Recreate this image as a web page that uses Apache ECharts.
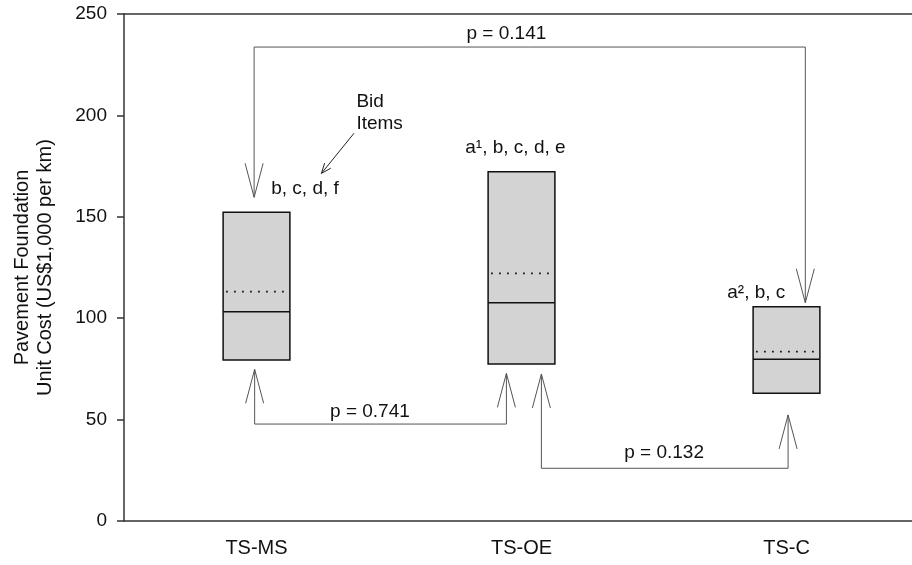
<!DOCTYPE html>
<html>
<head>
<meta charset="utf-8">
<title>Pavement Foundation Unit Cost</title>
<script src="https://cdn.jsdelivr.net/npm/echarts@6/dist/echarts.min.js"></script>
<style>
  html, body { margin: 0; padding: 0; background: #fff; }
  #main { width: 912px; height: 565px; }
</style>
</head>
<body>
<div id="main"></div>
<script>
// groups
const categories = ['TS-MS', 'TS-OE', 'TS-C'];
// box = 25th..75th percentile, solid = median, dotted = mean
const q1Values = [79.4, 77.4, 63.0];
const q3Values = [152.2, 172.2, 105.7];
const medianValues = [103.2, 107.6, 79.7];
const meanValues = [113.1, 122.1, 83.5];

// comparison brackets: [x start, tip start, x end, tip end, bracket level]
const bracketData = [
  [-0.009, 159.6, 2.071, 107.6, 233.7],
  [-0.007, 74.8, 0.943, 72.8, 47.8],
  [1.075, 72.5, 2.006, 52.3, 26.0]
];
const pLabels = ['p = 0.141', 'p = 0.741', 'p = 0.132'];
const pLabelPos = [[0.943, 240.5], [0.428, 53.9], [1.538, 33.4]];

// bid items over each box
const bidLabels = ['b, c, d, f', 'a\u00b9, b, c, d, e', 'a\u00b2, b, c'];
const bidLabelPos = [[0.183, 163.6], [0.977, 183.8], [1.886, 112.3]];
const noteText = 'Bid\nItems';
const notePos = [[0.377, 201.3]];
const notePointer = [[0.368, 191.2, 0.245, 171.4]];

const font = '"Liberation Sans", Arial, sans-serif';
const axisColor = '#333';

const chart = echarts.init(document.getElementById('main'));

function renderBox(params, api) {
  const x = api.value(0);
  const lo = api.coord([x, api.value(1)]);
  const hi = api.coord([x, api.value(2)]);
  const med = api.coord([x, api.value(3)]);
  const mean = api.coord([x, api.value(4)]);
  const half = api.size([1, 0])[0] * 0.126;
  return {
    type: 'group',
    children: [
      { type: 'rect', shape: { x: lo[0] - half, y: hi[1], width: half * 2, height: lo[1] - hi[1] },
        style: { fill: '#d3d3d3', stroke: '#111', lineWidth: 1.5 } },
      { type: 'line', shape: { x1: lo[0] - half, y1: med[1], x2: lo[0] + half, y2: med[1] },
        style: { stroke: '#111', lineWidth: 1.5 } },
      { type: 'line', shape: { x1: lo[0] - half + 3, y1: mean[1], x2: lo[0] + half, y2: mean[1] },
        style: { stroke: '#000', lineWidth: 1.6, lineDash: [1.6, 6.4] } }
    ]
  };
}

function arrowHead(tip, base, len, w) {
  const dir = tip[1] < base[1] ? 1 : -1;
  return [[tip[0] - w, tip[1] + dir * len], [tip[0], tip[1]], [tip[0] + w, tip[1] + dir * len]];
}

function renderBracket(params, api) {
  const a = api.coord([api.value(0), api.value(1)]);
  const b = api.coord([api.value(0), api.value(4)]);
  const c = api.coord([api.value(2), api.value(4)]);
  const d = api.coord([api.value(2), api.value(3)]);
  const st = { stroke: '#555', lineWidth: 1, fill: null };
  return {
    type: 'group',
    children: [
      { type: 'polyline', shape: { points: [a, b, c, d] }, style: st },
      { type: 'polyline', shape: { points: arrowHead(a, b, 34, 9) }, style: st },
      { type: 'polyline', shape: { points: arrowHead(d, c, 34, 9) }, style: st }
    ]
  };
}

function textRenderer(texts, align) {
  return function (params, api) {
    const p = api.coord([api.value(0), api.value(1)]);
    return {
      type: 'text',
      style: {
        x: p[0], y: p[1], text: texts[params.dataIndex],
        align: align, verticalAlign: 'middle',
        fontSize: 19, fontFamily: font, fill: '#111', lineHeight: 22
      }
    };
  };
}

function renderPointer(params, api) {
  const s = api.coord([api.value(0), api.value(1)]);
  const e = api.coord([api.value(2), api.value(3)]);
  const dx = e[0] - s[0], dy = e[1] - s[1];
  const len = Math.sqrt(dx * dx + dy * dy);
  const ux = dx / len, uy = dy / len;
  const hl = 10, hw = 4;
  const bx = e[0] - ux * hl, by = e[1] - uy * hl;
  return {
    type: 'group',
    children: [
      { type: 'line', shape: { x1: s[0], y1: s[1], x2: e[0], y2: e[1] }, style: { stroke: '#222', lineWidth: 1 } },
      { type: 'polyline', shape: { points: [[bx - uy * hw, by + ux * hw], e, [bx + uy * hw, by - ux * hw]] },
        style: { stroke: '#222', lineWidth: 1, fill: null } }
    ]
  };
}

const option = {
  animation: false,
  backgroundColor: '#fff',
  textStyle: { fontFamily: font },
  // plot area runs a little past the right edge, as in the original figure
  grid: { left: 124, top: 14, width: 795, height: 507, outerBoundsMode: 'none', containLabel: false },
  xAxis: [
    {
      type: 'category', data: categories, position: 'bottom', boundaryGap: true,
      axisLine: { onZero: false, lineStyle: { color: axisColor, width: 1.5 } },
      axisTick: { alignWithLabel: true, length: 7, lineStyle: { color: axisColor, width: 1.5 } },
      axisLabel: { fontSize: 20, color: '#111', margin: 17, fontFamily: font },
      splitLine: { show: false }
    },
    {
      type: 'value', position: 'top', min: -0.5, max: 2.5,
      axisLine: { show: true, onZero: false, lineStyle: { color: axisColor, width: 1.5 } },
      axisTick: { show: false }, axisLabel: { show: false }, splitLine: { show: false }
    }
  ],
  yAxis: {
    type: 'value', min: 0, max: 250, interval: 50,
    name: 'Pavement Foundation\nUnit Cost (US$1,000 per km)',
    nameLocation: 'middle', nameRotate: 90, nameGap: 67,
    nameTextStyle: { fontSize: 20, lineHeight: 23, color: '#111', fontFamily: font },
    axisLine: { show: true, onZero: false, lineStyle: { color: axisColor, width: 1.5 } },
    axisTick: { show: true, length: 7, lineStyle: { color: axisColor, width: 1.5 } },
    axisLabel: { fontSize: 19, color: '#111', margin: 17, fontFamily: font },
    splitLine: { show: false }
  },
  series: [
    {
      type: 'custom', xAxisIndex: 0, renderItem: renderBox,
      encode: { x: 0, y: [1, 2, 3, 4] },
      data: categories.map((c, i) => [i, q1Values[i], q3Values[i], medianValues[i], meanValues[i]])
    },
    {
      type: 'custom', xAxisIndex: 1, renderItem: renderBracket,
      encode: { x: [0, 2], y: [1, 3, 4] }, data: bracketData
    },
    {
      type: 'custom', xAxisIndex: 1, renderItem: textRenderer(pLabels, 'center'),
      encode: { x: 0, y: 1 }, data: pLabelPos
    },
    {
      type: 'custom', xAxisIndex: 1, renderItem: textRenderer(bidLabels, 'center'),
      encode: { x: 0, y: 1 }, data: bidLabelPos
    },
    {
      type: 'custom', xAxisIndex: 1, renderItem: textRenderer([noteText], 'left'),
      encode: { x: 0, y: 1 }, data: notePos
    },
    {
      type: 'custom', xAxisIndex: 1, renderItem: renderPointer,
      encode: { x: [0, 2], y: [1, 3] }, data: notePointer
    }
  ]
};

chart.setOption(option);
</script>
</body>
</html>
